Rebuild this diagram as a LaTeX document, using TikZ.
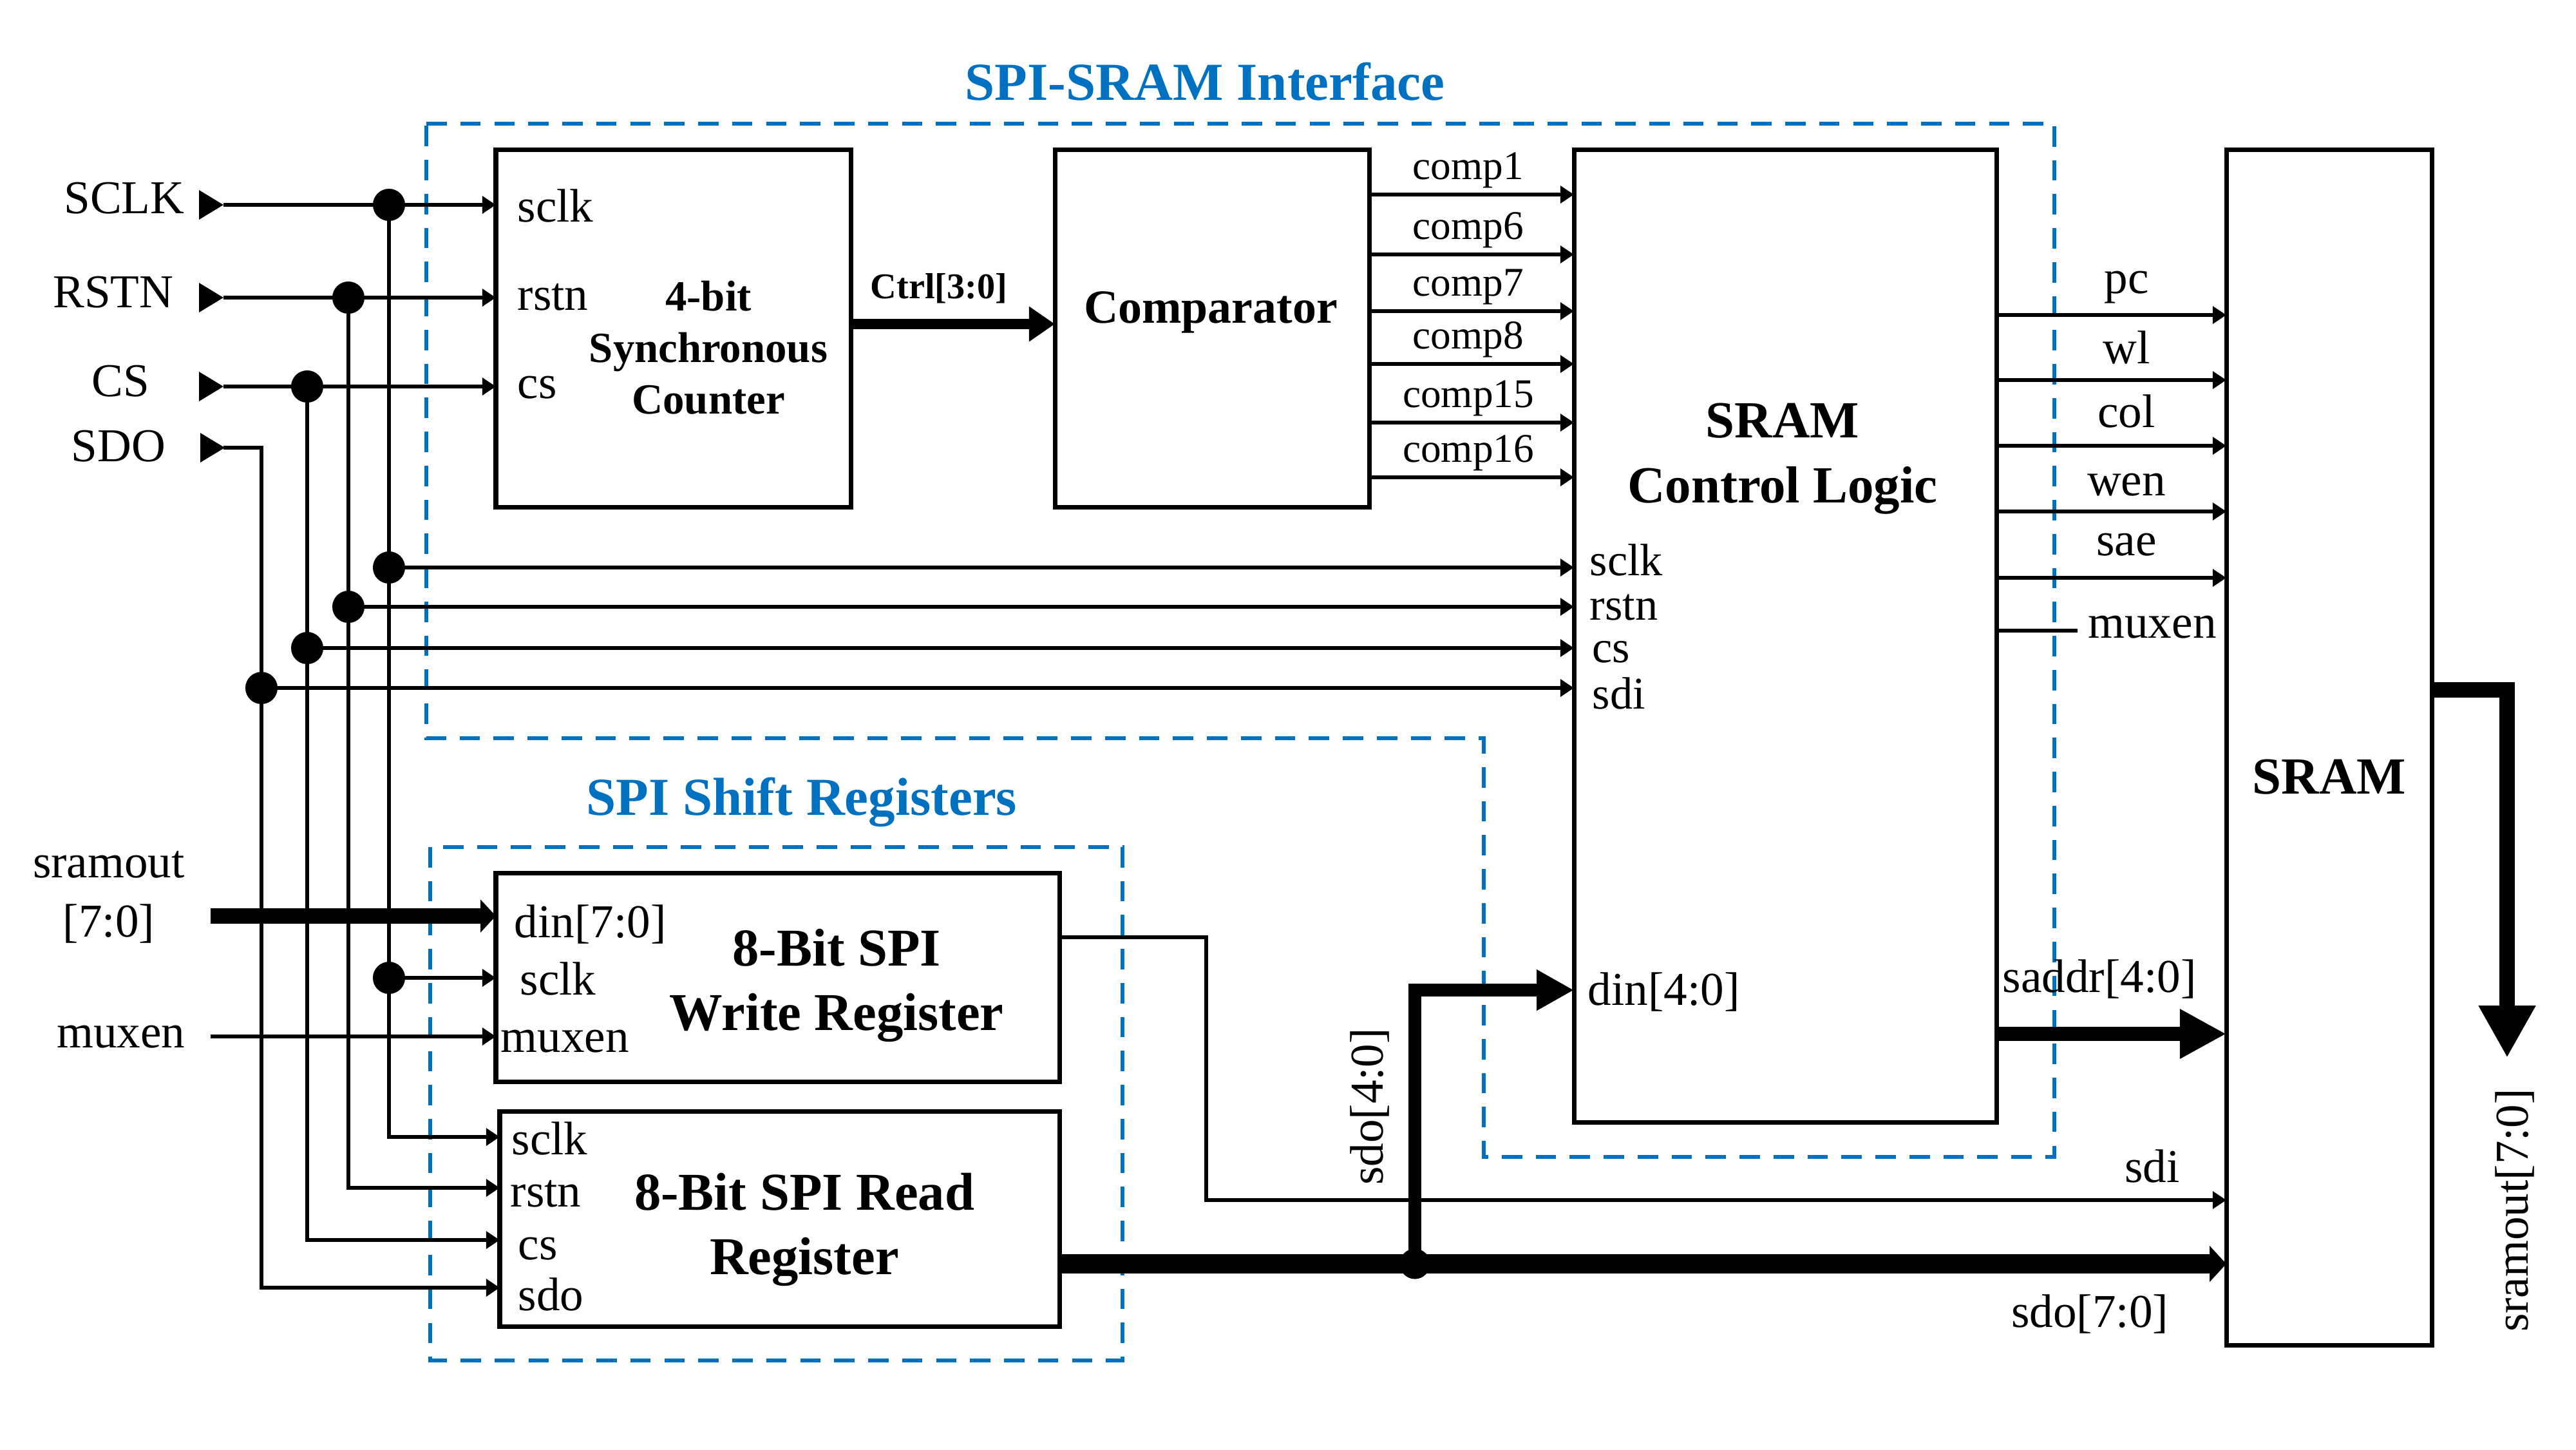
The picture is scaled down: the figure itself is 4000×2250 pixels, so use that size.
\documentclass[tikz,border=0pt]{standalone}
\usepackage{fontspec}
\setmainfont{Liberation Serif}
\usetikzlibrary{arrows.meta}
\definecolor{ifblue}{RGB}{0,112,192}
\begin{document}
\begin{tikzpicture}[x=0.01cm,y=-0.01cm,
  blk/.style={draw, line width=2pt, inner sep=0pt, outer sep=0pt, anchor=north west},
  wire/.style={line width=1.9pt},
  arr/.style={line width=1.9pt, -{Triangle[length=6pt,width=7.5pt]}},
  grp/.style={draw=ifblue, line width=1.8pt, dash pattern=on 9pt off 6pt},
  junc/.style={circle, fill, inner sep=0pt, minimum size=0.5cm},
  lbl/.style={inner sep=0pt, font=\fontsize{20.8pt}{25pt}\selectfont},
  tight/.style={inner sep=0pt, font=\fontsize{20pt}{24pt}\selectfont},
  sml/.style={inner sep=0pt, font=\fontsize{18pt}{22pt}\selectfont},
  hd/.style={inner sep=0pt, align=center, font=\bfseries\fontsize{23.5pt}{28.6pt}\selectfont},
  grpttl/.style={inner sep=0pt, text=ifblue, font=\bfseries\fontsize{23.6pt}{28pt}\selectfont},
  pin/.style={fill}
]
\useasboundingbox (0,0) rectangle (4000,2250);

% ---------- group frames ----------
\draw[grp] (662,192) -- (3190,192) -- (3190,1796) -- (2304,1796) -- (2304,1146) -- (662,1146) -- cycle;
\draw[grp] (668,1315) rectangle (1743,2112);
\node[grpttl, anchor=base] (tIf) at (1871,155) {SPI-SRAM Interface};
\node[grpttl, anchor=base] (tSh) at (1245,1265) {SPI Shift Registers};

% ---------- blocks ----------
\node[blk, minimum width=5.51cm, minimum height=5.55cm] (cnt) at (770,232) {};
\node[blk, minimum width=4.88cm, minimum height=5.55cm] (cmp) at (1638,232) {};
\node[blk, minimum width=6.56cm, minimum height=15.10cm] (ctl) at (2444,232) {};
\node[blk, minimum width=3.19cm, minimum height=18.55cm] (sram) at (3457,232) {};
\node[blk, minimum width=8.75cm, minimum height=3.24cm] (wr) at (770,1355) {};
\node[blk, minimum width=8.69cm, minimum height=3.34cm] (rd) at (776,1725) {};

% block titles
\node[inner sep=0pt, align=center, anchor=north, font=\bfseries\fontsize{19pt}{22.8pt}\selectfont] (tCnt) at (1100,435) {4-bit\\Synchronous\\Counter};
\node[inner sep=0pt, anchor=base, font=\bfseries\fontsize{21pt}{25pt}\selectfont] (tCmp) at (1880,501) {Comparator};
\node[hd, anchor=north, font=\bfseries\fontsize{23pt}{28.7pt}\selectfont] (tCtl) at (2768,625) {SRAM\\Control Logic};
\node[inner sep=0pt, anchor=base, font=\bfseries\fontsize{23pt}{28pt}\selectfont] (tSram) at (3617,1232) {SRAM};
\node[hd, anchor=north] (tWr) at (1299,1441) {8-Bit SPI\\Write Register};
\node[hd, anchor=north] (tRd) at (1249,1820) {8-Bit SPI Read\\Register};

% ---------- input pins ----------
\node[lbl, anchor=base] (lSCLK) at (193,331) {SCLK};
\node[lbl, anchor=base] (lRSTN) at (176,477) {RSTN};
\node[lbl, anchor=base] (lCS) at (187,615) {CS};
\node[lbl, anchor=base] (lSDO) at (184,716) {SDO};
\fill[pin] (309,295) -- (347,318) -- (309,341) -- cycle;
\fill[pin] (309,439) -- (347,462) -- (309,485) -- cycle;
\fill[pin] (309,577) -- (347,600) -- (309,623) -- cycle;
\fill[pin] (311,672) -- (349,695) -- (311,718) -- cycle;
\coordinate (pSCLK) at (347,318);
\coordinate (pRSTN) at (347,462);
\coordinate (pCS) at (347,600);
\coordinate (pSDO) at (347,695);
\coordinate (sdoTop) at (406,695);

\node[lbl, anchor=base] (lSramout) at (169,1362) {sramout};
\node[lbl, anchor=base] (lSramidx) at (169,1454) {[7:0]};
\node[lbl, anchor=base] (lMux) at (188,1626) {muxen};
\coordinate (pSramout) at (327,1422);
\coordinate (pMux) at (327,1609);

% ---------- pin coordinates ----------
\coordinate (cnt-sclk) at (770,318);
\coordinate (cnt-rstn) at (770,462);
\coordinate (cnt-cs) at (770,600);
\coordinate (cnt-out) at (1321,503);
\coordinate (cmp-in) at (1638,503);

\coordinate (wr-din) at (770,1422);
\coordinate (wr-sclk) at (770,1518);
\coordinate (wr-mux) at (770,1609);
\coordinate (wr-sdi) at (1645,1455);
\coordinate (sdiBend) at (1873,1455);

\coordinate (rd-sclk) at (776,1765);
\coordinate (rd-rstn) at (776,1844);
\coordinate (rd-cs) at (776,1925);
\coordinate (rd-sdo) at (776,1999);
\coordinate (rd-out) at (1645,1962);

\coordinate (ctl-sclk) at (2444,881);
\coordinate (ctl-rstn) at (2444,942);
\coordinate (ctl-cs) at (2444,1006);
\coordinate (ctl-sdi) at (2444,1068);
\coordinate (ctl-din) at (2444,1537);
\coordinate (ctl-saddr) at (3100,1605);
\coordinate (ctl-mux) at (3100,979);
\coordinate (muxEnd) at (3226,979);

\coordinate (sram-saddr) at (3457,1605);
\coordinate (sram-sdi) at (3457,1863);
\coordinate (sram-sdo) at (3457,1962);
\coordinate (sram-q) at (3776,1071);
\coordinate (smoEnd) at (3893,1642);

% ---------- junctions ----------
\node[junc] (jS1) at (604,318) {};
\node[junc] (jR1) at (541,462) {};
\node[junc] (jC1) at (477,600) {};
\node[junc] (jS2) at (604,881) {};
\node[junc] (jR2) at (541,942) {};
\node[junc] (jC2) at (477,1006) {};
\node[junc] (jD) at (406,1068) {};
\node[junc] (jS3) at (604,1518) {};
\node[junc, minimum size=0.47cm] (jB) at (2197,1962) {};

% ---------- wires ----------
\draw[arr] (pSCLK) -- (cnt-sclk);
\draw[arr] (pRSTN) -- (cnt-rstn);
\draw[arr] (pCS) -- (cnt-cs);
\draw[arr] (jS1.center) |- (rd-sclk);
\draw[arr] (jR1.center) |- (rd-rstn);
\draw[arr] (jC1.center) |- (rd-cs);
\draw[arr] (pSDO) -- (sdoTop) |- (rd-sdo);
\draw[arr] (jS2.center) -- (ctl-sclk);
\draw[arr] (jR2.center) -- (ctl-rstn);
\draw[arr] (jC2.center) -- (ctl-cs);
\draw[arr] (jD.center) -- (ctl-sdi);
\draw[arr] (jS3.center) -- (wr-sclk);
\draw[arr] (pMux) -- (wr-mux);
\draw[line width=6.8pt, -{Triangle[length=6.8pt,width=14.2pt]}] (pSramout) -- (wr-din);
\draw[line width=4.8pt, -{Triangle[length=11.4pt,width=14.8pt]}] (cnt-out) -- (cmp-in);

% comparator outputs
\foreach \y/\t in {302/comp1, 395/comp6, 483/comp7, 565/comp8, 656/comp15, 741/comp16}{
  \draw[arr] (cmp.east |- 0,\y) -- (ctl.west |- 0,\y);
  \node[sml, anchor=base] at (2280,\y-24) {\t};
}

% control logic outputs
\foreach \y/\b/\t in {489/455/pc, 590/564/wl, 692/663/col, 794/769/wen, 897/862/sae}{
  \draw[arr] (ctl.east |- 0,\y) -- (sram.west |- 0,\y);
  \node[lbl, anchor=base] at (3302,\b) {\t};
}
\draw[wire] (ctl-mux) -- (muxEnd);
\node[lbl, anchor=base] (lCtlMux) at (3342,990) {muxen};

\draw[line width=6.5pt, -{Triangle[length=20.5pt,width=20.5pt]}] (ctl-saddr) -- (sram-saddr);
\draw[arr] (wr-sdi) -- (sdiBend) |- (sram-sdi);
\draw[line width=8.3pt, -{Triangle[length=7.4pt,width=15.6pt]}] (rd-out) -- (sram-sdo);
\draw[line width=5.7pt, -{Triangle[length=16.5pt,width=17pt]}] (jB.center) |- (ctl-din);
\draw[line width=7pt, -{Triangle[length=23pt,width=23.6pt]}] (sram-q) -| (smoEnd);

% ---------- pin labels ----------
\node[lbl, anchor=base west] at (803,344) {sclk};
\node[lbl, anchor=base west] at (803,481) {rstn};
\node[lbl, anchor=base west] at (803,618) {cs};

\node[lbl, anchor=base west] at (798,1455) {din[7:0]};
\node[lbl, anchor=base west] at (807,1544) {sclk};
\node[lbl, anchor=base west] at (777,1633) {muxen};

\node[lbl, anchor=base west] at (794,1792) {sclk};
\node[lbl, anchor=base west] at (792,1873) {rstn};
\node[lbl, anchor=base west] at (804,1955) {cs};
\node[lbl, anchor=base west] at (804,2034) {sdo};

\node[tight, anchor=base west] at (2468,893) {sclk};
\node[tight, anchor=base west] at (2468,962) {rstn};
\node[tight, anchor=base west] at (2472,1028) {cs};
\node[tight, anchor=base west] at (2472,1100) {sdi};
\node[lbl, anchor=base west] at (2465,1560) {din[4:0]};

\node[inner sep=0pt, anchor=base, font=\bfseries\fontsize{16pt}{19pt}\selectfont] (lCtrl) at (1458,463) {Ctrl[3:0]};
\node[lbl, anchor=base] at (3260,1540) {saddr[4:0]};
\node[lbl, anchor=base] at (3342,1835) {sdi};
\node[lbl, anchor=base] at (3245,2060) {sdo[7:0]};
\node[lbl, rotate=90] at (2127,1718) {sdo[4:0]};
\node[lbl, rotate=90] at (3905,1879) {sramout[7:0]};

\end{tikzpicture}
\end{document}
